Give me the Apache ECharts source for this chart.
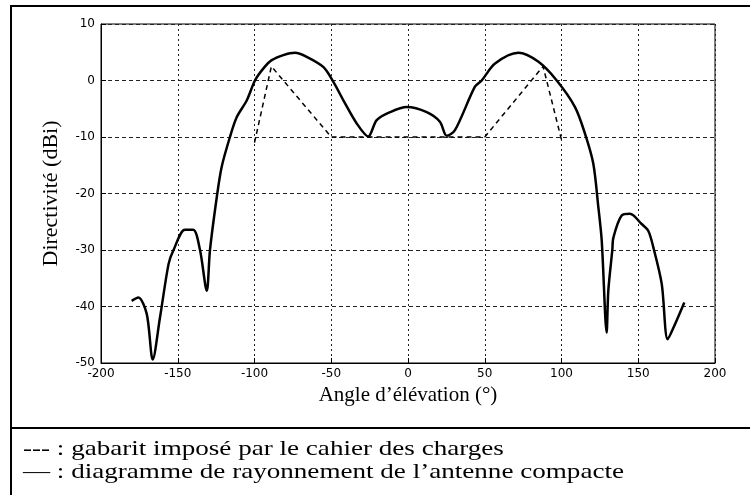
<!DOCTYPE html>
<html>
<head>
<meta charset="utf-8">
<script src="https://cdn.jsdelivr.net/npm/echarts@6/dist/echarts.min.js"></script>
<style>
    html, body { margin: 0; padding: 0; background: #fff; }
    #chart { width: 750px; height: 495px; }
</style>
</head>
<body>
<div id="chart"></div>
<script>
// diagramme de rayonnement (trait plein)
var angleRad = [-180, -175.7, -170.2, -166.3, -161.6, -156, -152.9, -145.3, -139.9, -135.5, -131.1, -129,
    -124.6, -121.4, -116, -111.6, -105, -99.7, -94.3, -88.8, -81.2, -73.6, -66, -55.2, -48.7, -42.1, -33.4,
    -25.9, -20.4, -11.7, -0.8, 12.2, 20.8, 25.2, 30.6, 43.6, 48, 56.7, 71.9, 85, 96.9, 108.8, 115.3, 120.7,
    124, 126.2, 129.4, 130.5, 133.1, 133.8, 139.2, 144.6, 152.2, 156.5, 159.8, 165.3, 169.2, 174, 180];
var dirRad = [-39, -38.4, -41.3, -49.4, -42, -32.5, -30.1, -26.4, -26.4, -30, -37.2, -30,
    -20.7, -15.3, -10, -6.5, -3.5, 0, 2.1, 3.6, 4.5, 4.9, 4.2, 2.4, -0.2, -3.5, -7.6,
    -9.9, -7, -5.6, -4.7, -5.6, -7.3, -9.8, -8.8, -1.1, 0, 3, 4.9, 3.3, 0, -4.7, -9.4, -14.7,
    -22.4, -28.3, -44.6, -37.2, -30, -27.8, -23.9, -23.6, -25.4, -26.6, -29.5, -36, -45.8, -43.1, -39.3];

// gabarit du cahier des charges (tirets)
var angleGab = [-100, -89, -50, 50, 88, 100];
var dirGab = [-11, 2.5, -10, -10, 2.5, -10.5];

var xTicks = [-200, 200, 50];
var yTicks = [-50, 10, 10];

var legendLines = [
    "--- : gabarit imposé par le cahier des charges",
    "— : diagramme de rayonnement de l’antenne compacte"
];

(function() {
    var myChart = echarts.init(document.getElementById("chart"), null, { renderer: "canvas" });

    function pairs(xs, ys) {
        return xs.map(function(x, i) { return [x, ys[i]]; });
    }

    var tickFont = { color: "#000", fontFamily: "DejaVu Sans", fontSize: 12 };
    var serif = "Liberation Serif";

    var option = {
        animation: false,
        backgroundColor: "#fff",
        grid: {
            left: 101,
            right: 35,
            top: 24,
            height: 339,
            show: true,
            borderColor: "#000",
            borderWidth: 1
        },
        xAxis: {
            type: "value",
            min: xTicks[0],
            max: xTicks[1],
            interval: xTicks[2],
            name: "Angle d’élévation (°)",
            nameLocation: "middle",
            nameGap: 21,
            nameTextStyle: { fontFamily: serif, fontSize: 21, color: "#000" },
            axisLine: { onZero: false, lineStyle: { color: "#000", width: 1 } },
            axisTick: { inside: true, length: 5, lineStyle: { color: "#000" } },
            axisLabel: Object.assign({ margin: 5 }, tickFont),
            splitLine: { lineStyle: { color: "#222", type: [2, 3], width: 1 } }
        },
        yAxis: {
            type: "value",
            min: yTicks[0],
            max: yTicks[1],
            interval: yTicks[2],
            name: "Directivité (dBi)",
            nameLocation: "middle",
            nameGap: 39,
            nameTextStyle: { fontFamily: serif, fontSize: 22, color: "#000" },
            axisLine: { onZero: false, lineStyle: { color: "#000", width: 1 } },
            axisTick: { inside: true, length: 5, lineStyle: { color: "#000" } },
            axisLabel: Object.assign({ margin: 6 }, tickFont),
            splitLine: { lineStyle: { color: "#222", type: [4, 3], width: 1 } }
        },
        series: [{
            name: "gabarit",
            type: "line",
            data: pairs(angleGab, dirGab),
            showSymbol: false,
            lineStyle: { color: "#000", width: 1.5, type: [5, 4] },
            z: 3
        }, {
            name: "diagramme",
            type: "line",
            data: pairs(angleRad, dirRad),
            showSymbol: false,
            smooth: 0.3,
            lineStyle: { color: "#000", width: 2.5 },
            z: 4
        }],
        graphic: [
            // cadre
            { type: "line", shape: { x1: 10, y1: 6, x2: 750, y2: 6 }, style: { stroke: "#000", lineWidth: 2 } },
            { type: "line", shape: { x1: 11, y1: 5, x2: 11, y2: 495 }, style: { stroke: "#000", lineWidth: 2 } },
            { type: "line", shape: { x1: 10, y1: 428, x2: 750, y2: 428 }, style: { stroke: "#000", lineWidth: 2 } },
            // légende
            {
                type: "text", left: 23, top: 439, scaleX: 1.29,
                style: { text: legendLines[0], fontFamily: serif, fontSize: 21, fill: "#000" }
            },
            {
                type: "text", left: 23, top: 462, scaleX: 1.29,
                style: { text: legendLines[1], fontFamily: serif, fontSize: 21, fill: "#000" }
            }
        ]
    };

    myChart.setOption(option);
    window.addEventListener("resize", function() {
        myChart.resize();
    });
})();
</script>
</body>
</html>
